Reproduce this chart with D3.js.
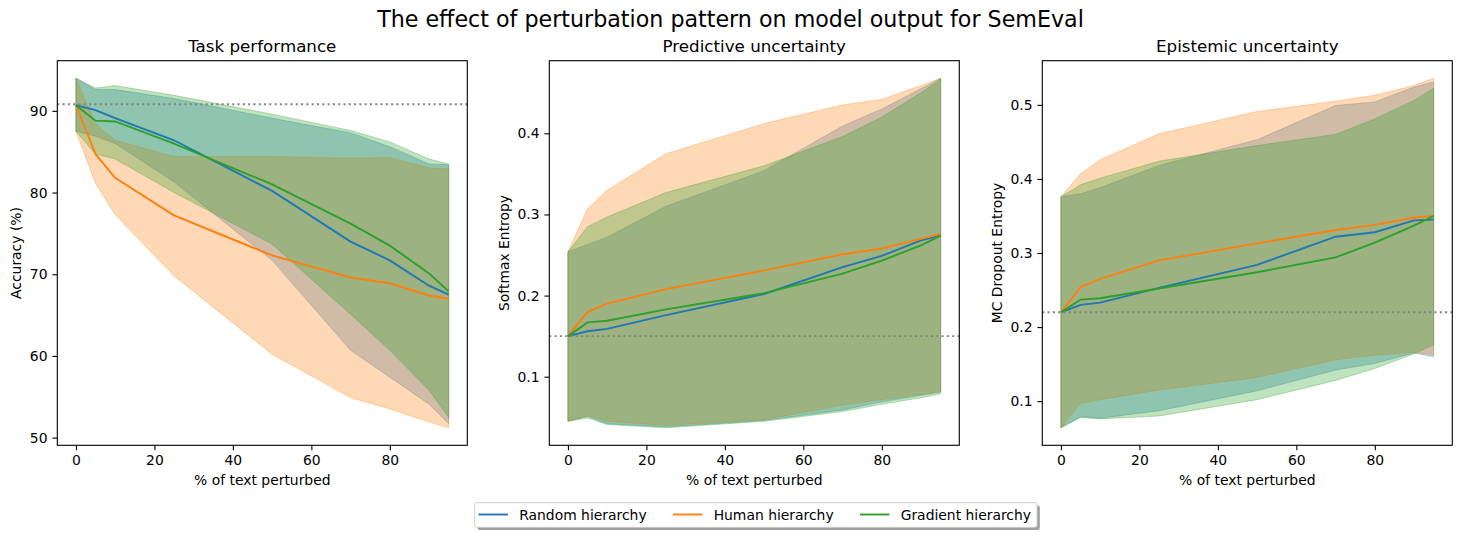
<!DOCTYPE html>
<html>
<head>
<meta charset="utf-8">
<script src="https://cdn.jsdelivr.net/npm/d3@7"></script>
<style>
  body { margin: 0; background: #fff; }
  svg { font-family: "DejaVu Sans", sans-serif; }
</style>
</head>
<body>
<div id="chart"></div>
<script>
/* DATA */
const pct = [0, 5, 10, 25, 50, 70, 80, 90, 95];

// Task performance (accuracy %)
const randomAccMean = [90.7, 90.1, 89.1, 86.4, 80.2, 74.0, 71.7, 68.6, 67.5];
const randomAccLow  = [87.5, 86.9, 86.0, 81.3, 71.7, 60.7, 57.4, 54.1, 51.7];
const randomAccHigh = [94.0, 92.6, 92.6, 91.5, 89.1, 87.3, 85.6, 83.5, 83.4];
const humanAccMean  = [90.7, 84.7, 81.8, 77.2, 72.3, 69.6, 68.9, 67.4, 67.0];
const humanAccLow   = [87.5, 81.1, 77.3, 69.8, 60.2, 54.9, 53.5, 51.9, 51.2];
const humanAccHigh  = [94.0, 88.4, 86.4, 84.4, 84.4, 84.2, 84.3, 83.0, 82.9];
const gradAccMean   = [90.7, 88.8, 88.7, 86.0, 81.0, 76.2, 73.5, 70.1, 67.9];
const gradAccLow    = [87.5, 84.7, 84.1, 80.0, 73.7, 65.1, 60.7, 55.8, 52.5];
const gradAccHigh   = [94.0, 92.8, 93.1, 91.9, 89.6, 87.6, 86.2, 84.1, 83.5];

// Predictive uncertainty (softmax entropy)
const randomSmMean = [0.150, 0.156, 0.159, 0.176, 0.202, 0.235, 0.249, 0.268, 0.274];
const randomSmLow  = [0.045, 0.051, 0.042, 0.038, 0.046, 0.059, 0.069, 0.077, 0.081];
const randomSmHigh = [0.254, 0.263, 0.272, 0.310, 0.354, 0.409, 0.430, 0.455, 0.468];
const humanSmMean  = [0.150, 0.180, 0.190, 0.208, 0.231, 0.251, 0.258, 0.270, 0.276];
const humanSmLow   = [0.045, 0.052, 0.045, 0.040, 0.047, 0.065, 0.072, 0.078, 0.082];
const humanSmHigh  = [0.254, 0.307, 0.330, 0.375, 0.412, 0.435, 0.442, 0.459, 0.468];
const gradSmMean   = [0.150, 0.167, 0.169, 0.183, 0.203, 0.227, 0.243, 0.262, 0.274];
const gradSmLow    = [0.045, 0.049, 0.041, 0.037, 0.045, 0.057, 0.066, 0.074, 0.079];
const gradSmHigh   = [0.254, 0.285, 0.297, 0.327, 0.360, 0.396, 0.420, 0.450, 0.467];

// Epistemic uncertainty (MC dropout entropy)
const randomMcMean = [0.220, 0.230, 0.233, 0.253, 0.284, 0.322, 0.328, 0.344, 0.345];
const randomMcLow  = [0.064, 0.079, 0.077, 0.087, 0.114, 0.142, 0.151, 0.165, 0.160];
const randomMcHigh = [0.376, 0.380, 0.388, 0.418, 0.453, 0.499, 0.504, 0.524, 0.531];
const humanMcMean  = [0.220, 0.254, 0.265, 0.290, 0.313, 0.331, 0.338, 0.348, 0.350];
const humanMcLow   = [0.064, 0.097, 0.102, 0.115, 0.132, 0.156, 0.162, 0.166, 0.163];
const humanMcHigh  = [0.376, 0.407, 0.426, 0.461, 0.491, 0.505, 0.513, 0.526, 0.536];
const gradMcMean   = [0.220, 0.237, 0.239, 0.252, 0.274, 0.294, 0.314, 0.337, 0.350];
const gradMcLow    = [0.064, 0.078, 0.076, 0.080, 0.102, 0.128, 0.144, 0.164, 0.176];
const gradMcHigh   = [0.376, 0.392, 0.401, 0.424, 0.445, 0.460, 0.481, 0.506, 0.522];

const baselines = [90.8, 0.150, 0.220];
const seriesNames = ["Random hierarchy", "Human hierarchy", "Gradient hierarchy"];
const panelTitles = ["Task performance", "Predictive uncertainty", "Epistemic uncertainty"];
const yLabels = ["Accuracy (%)", "Softmax Entropy", "MC Dropout Entropy"];
const xTicks = [0, 20, 40, 60, 80];
const accTicks = [50, 60, 70, 80, 90];
const smTicks = [0.1, 0.2, 0.3, 0.4];
const mcTicks = [0.1, 0.2, 0.3, 0.4, 0.5];

/* CONSTANTS */
const width = 1461;
const height = 537;
const colors = ["#1f77b4", "#ff7f0e", "#2ca02c"];
const axTop = 60.7;
const axBottom = 445.3;
const axW = 410;
const axLefts = [57.3, 549.3, 1042.3];
const tickLen = 4.9;

const panels = [
  { title: panelTitles[0], ylabel: yLabels[0], base: baselines[0], ticks: accTicks, fmt: d3.format("d"),
    series: [[randomAccMean, randomAccLow, randomAccHigh], [humanAccMean, humanAccLow, humanAccHigh], [gradAccMean, gradAccLow, gradAccHigh]] },
  { title: panelTitles[1], ylabel: yLabels[1], base: baselines[1], ticks: smTicks, fmt: d3.format(".1f"),
    series: [[randomSmMean, randomSmLow, randomSmHigh], [humanSmMean, humanSmLow, humanSmHigh], [gradSmMean, gradSmLow, gradSmHigh]] },
  { title: panelTitles[2], ylabel: yLabels[2], base: baselines[2], ticks: mcTicks, fmt: d3.format(".1f"),
    series: [[randomMcMean, randomMcLow, randomMcHigh], [humanMcMean, humanMcLow, humanMcHigh], [gradMcMean, gradMcLow, gradMcHigh]] }
];

const svg = d3.select("#chart")
  .append("svg")
  .attr("width", width)
  .attr("height", height);

// figure title
svg.append("text")
  .attr("x", width / 2)
  .attr("y", 26.7)
  .attr("text-anchor", "middle")
  .style("font-size", "22.2px")
  .text("The effect of perturbation pattern on model output for SemEval");

// margins like matplotlib (5%)
function padded(lo, hi) {
  const m = (hi - lo) * 0.05;
  return [lo - m, hi + m];
}

panels.forEach((p, i) => {
  const left = axLefts[i];
  const xScale = d3.scaleLinear()
    .domain(padded(d3.min(pct), d3.max(pct)))
    .range([left, left + axW]);

  const allVals = p.series.flatMap(s => s[1].concat(s[2]));
  const yScale = d3.scaleLinear()
    .domain(padded(d3.min(allVals), d3.max(allVals)))
    .range([axBottom, axTop]);

  const g = svg.append("g");

  const clipId = "clip" + i;
  g.append("clipPath").attr("id", clipId)
    .append("rect")
    .attr("x", left).attr("y", axTop)
    .attr("width", axW).attr("height", axBottom - axTop);

  const plot = g.append("g").attr("clip-path", "url(#" + clipId + ")");

  // BANDS
  const area = d3.area()
    .x((d, j) => xScale(pct[j]))
    .y0(d => yScale(d[0]))
    .y1(d => yScale(d[1]));

  p.series.forEach((s, k) => {
    const band = s[1].map((v, j) => [v, s[2][j]]);
    plot.append("path")
      .datum(band)
      .attr("d", area)
      .attr("fill", colors[k])
      .attr("fill-opacity", 0.3)
      .attr("stroke", colors[k])
      .attr("stroke-opacity", 0.3)
      .attr("stroke-width", 1);
  });

  // MEAN LINES
  const line = d3.line()
    .x((d, j) => xScale(pct[j]))
    .y(d => yScale(d));

  p.series.forEach((s, k) => {
    plot.append("path")
      .datum(s[0])
      .attr("d", line)
      .attr("fill", "none")
      .attr("stroke", colors[k])
      .attr("stroke-width", 1.9);
  });

  // baseline
  plot.append("line")
    .attr("x1", left).attr("x2", left + axW)
    .attr("y1", yScale(p.base)).attr("y2", yScale(p.base))
    .attr("stroke", "#808080")
    .attr("stroke-width", 1.9)
    .attr("stroke-dasharray", "2,3.3");

  // AXES
  const xAxis = d3.axisBottom(xScale).tickValues(xTicks).tickSize(tickLen).tickPadding(4.9);
  const yAxis = d3.axisLeft(yScale).tickValues(p.ticks).tickFormat(p.fmt).tickSize(tickLen).tickPadding(4.9);

  const gx = g.append("g")
    .attr("transform", "translate(0," + axBottom + ")")
    .call(xAxis);
  const gy = g.append("g")
    .attr("transform", "translate(" + left + ",0)")
    .call(yAxis);

  [gx, gy].forEach(a => {
    a.select(".domain").remove();
    a.selectAll(".tick line").attr("stroke", "#000").attr("stroke-width", 1.1);
    a.selectAll(".tick text")
      .attr("fill", "#000")
      .style("font-size", "13.9px")
      .style("font-family", "DejaVu Sans, sans-serif");
  });

  // frame
  g.append("rect")
    .attr("x", left).attr("y", axTop)
    .attr("width", axW).attr("height", axBottom - axTop)
    .attr("fill", "none")
    .attr("stroke", "#000")
    .attr("stroke-width", 1.1);

  // LABELS
  g.append("text")
    .attr("x", left + axW / 2)
    .attr("y", 51.7)
    .attr("text-anchor", "middle")
    .style("font-size", "16.7px")
    .text(p.title);

  g.append("text")
    .attr("x", left + axW / 2)
    .attr("y", 485)
    .attr("text-anchor", "middle")
    .style("font-size", "13.9px")
    .text("% of text perturbed");

  const yb = gy.node().getBBox();
  g.append("text")
    .attr("transform", "translate(" + (left + yb.x - 5.6 - 3.3) + "," + ((axTop + axBottom) / 2) + ") rotate(-90)")
    .attr("text-anchor", "middle")
    .style("font-size", "13.9px")
    .text(p.ylabel);
});

// LEGEND
const legX = 474.7, legY = 502.7, legH = 24.6;
const leg = svg.append("g");
const shadow = leg.append("rect");
const frame = leg.append("rect");
let cx = legX + 3.8;
seriesNames.forEach((name, k) => {
  leg.append("line")
    .attr("x1", cx).attr("x2", cx + 29.4)
    .attr("y1", legY + legH / 2 - 0.5).attr("y2", legY + legH / 2 - 0.5)
    .attr("stroke", colors[k])
    .attr("stroke-width", 1.9);
  const t = leg.append("text")
    .attr("x", cx + 29.4 + 11.3)
    .attr("y", legY + legH / 2 + 4.5)
    .style("font-size", "13.9px")
    .text(name);
  cx = cx + 29.4 + 11.3 + t.node().getComputedTextLength() + 26.3;
});
const legW = cx - 26.3 + 6 - legX;
shadow
  .attr("x", legX + 2.8).attr("y", legY + 2.8)
  .attr("width", legW).attr("height", legH)
  .attr("rx", 2)
  .attr("fill", "#888")
  .attr("fill-opacity", 0.8);
frame
  .attr("x", legX).attr("y", legY)
  .attr("width", legW).attr("height", legH)
  .attr("rx", 2)
  .attr("fill", "#fff")
  .attr("stroke", "#ccc")
  .attr("stroke-width", 1);
</script>
</body>
</html>
